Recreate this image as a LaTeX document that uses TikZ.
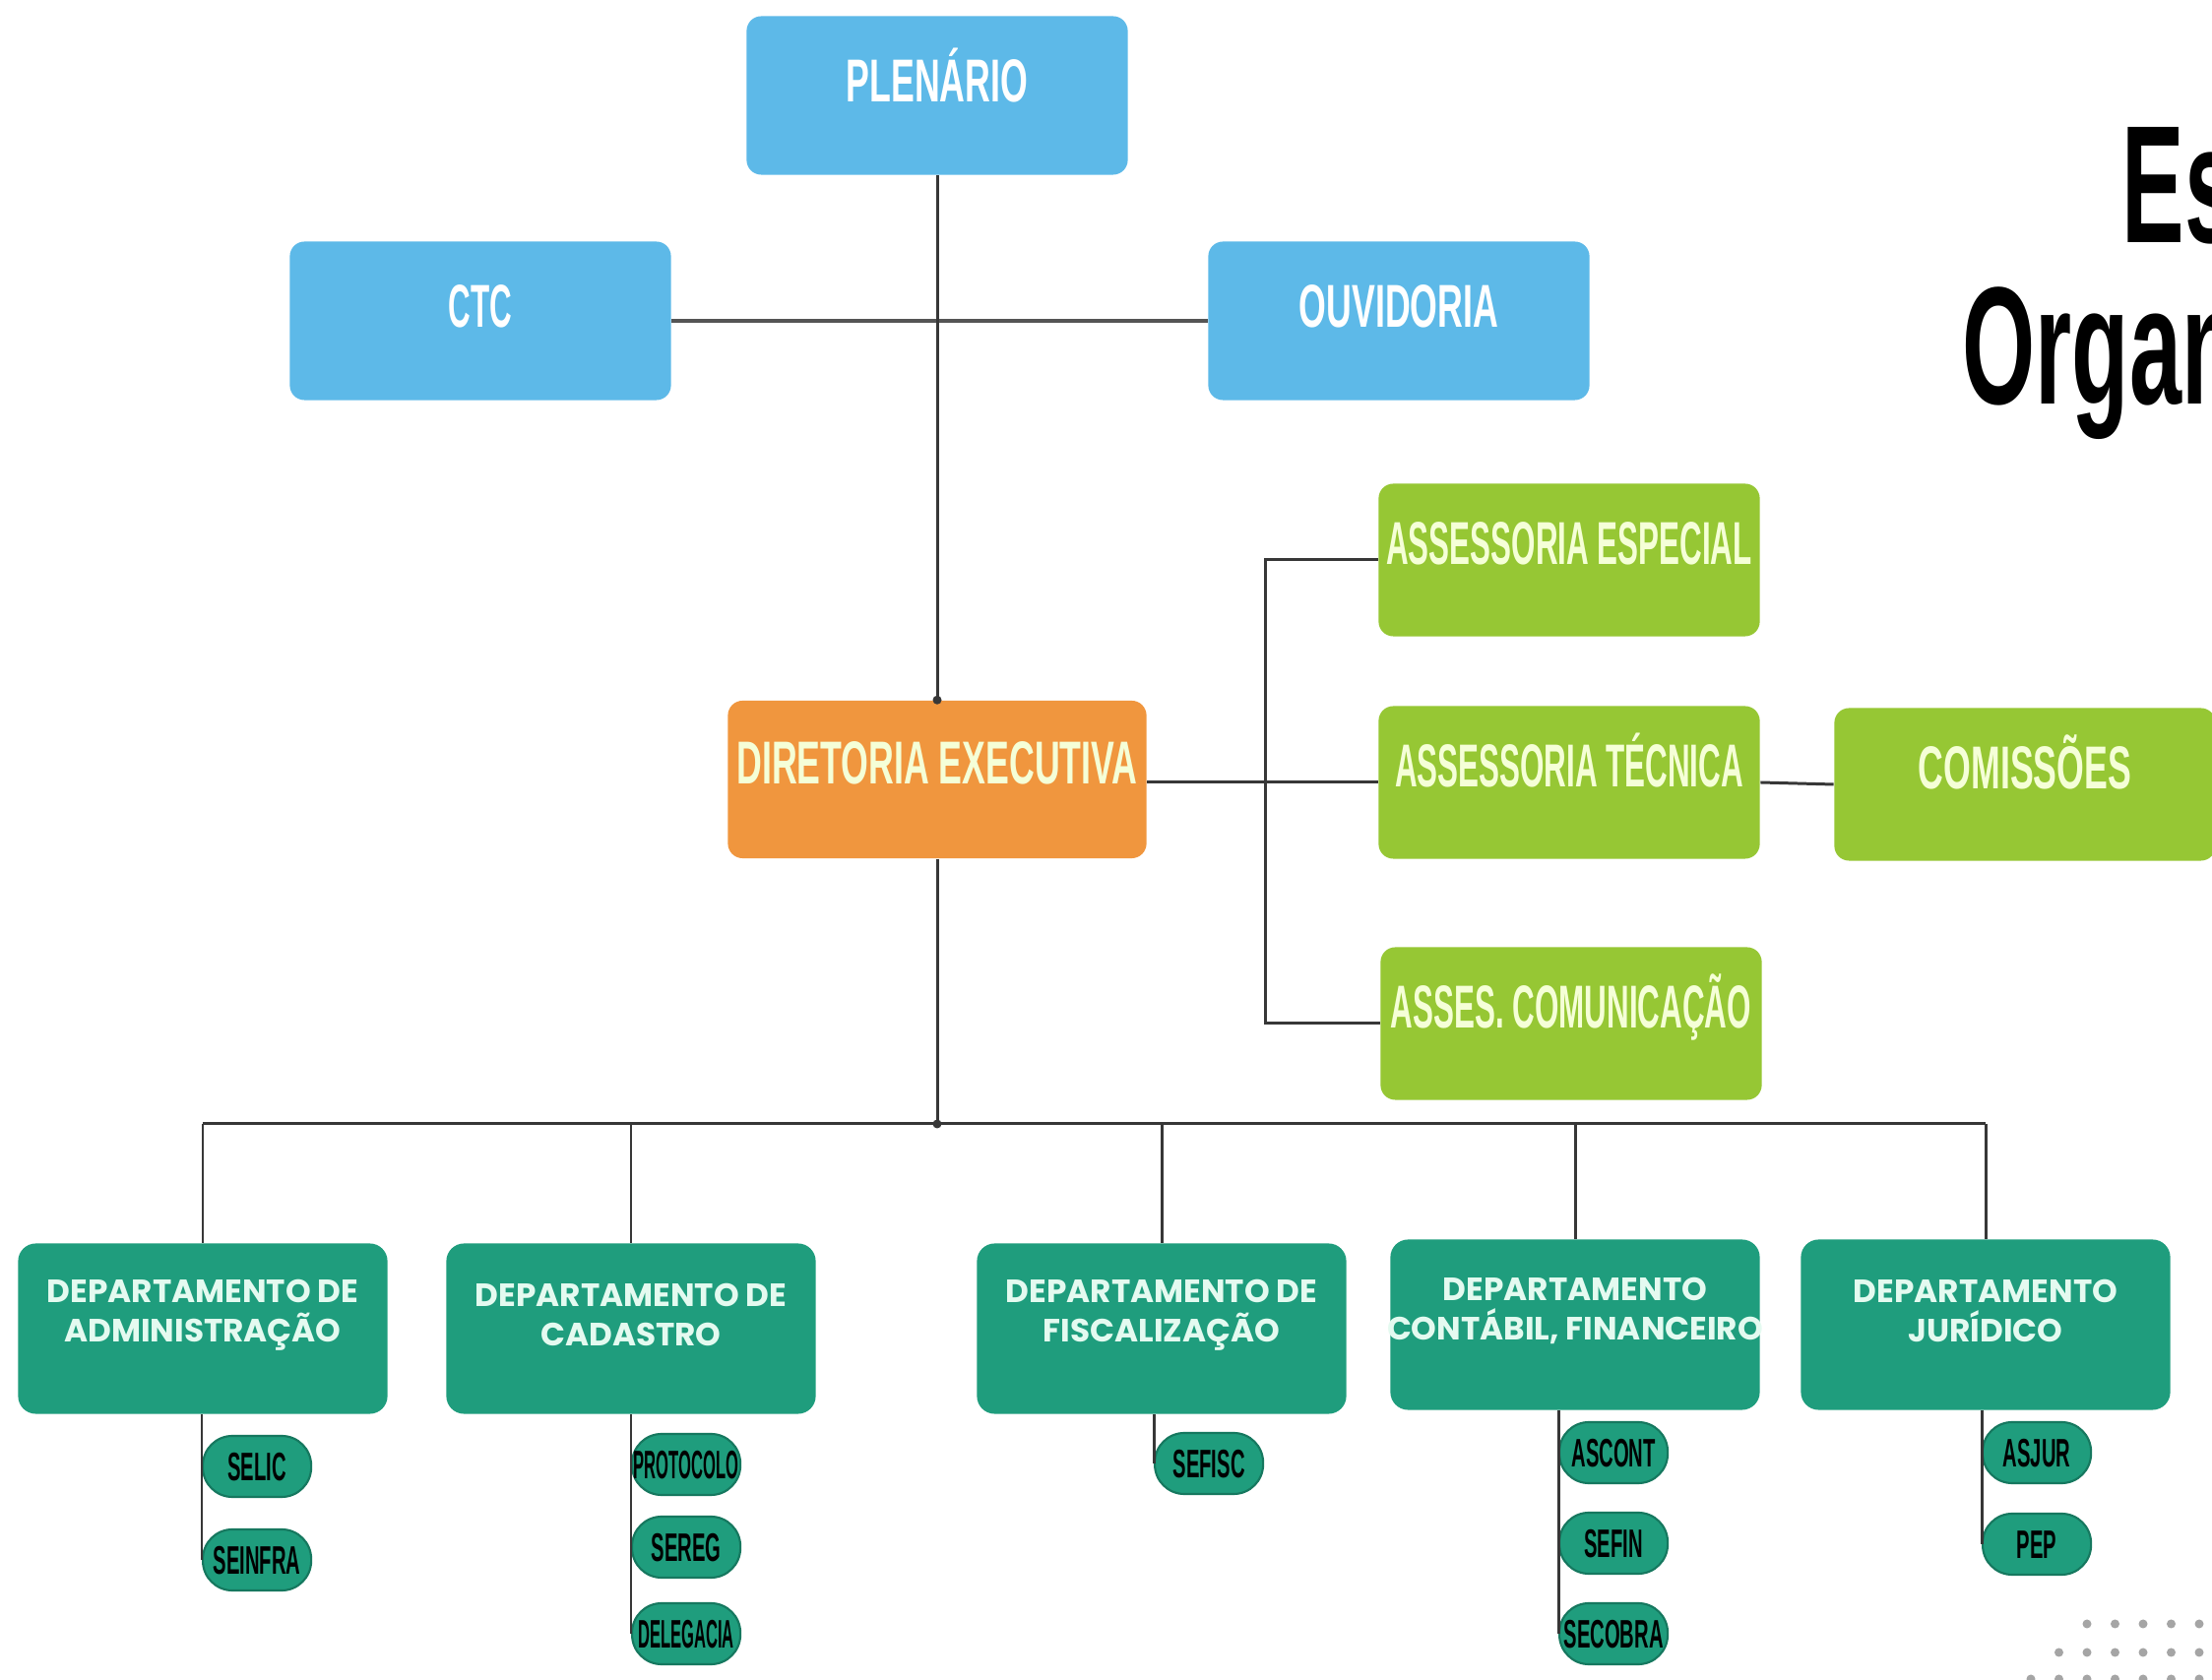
\documentclass[tikz,border=0pt]{standalone}
\usepackage{fontspec}
\setmainfont{Liberation Sans}
\newfontfamily\condfont[FakeStretch=0.51]{Liberation Sans}
\newfontfamily\condwide[FakeStretch=0.58]{Liberation Sans}
\newfontfamily\pillfont[FakeStretch=0.5]{Liberation Sans}
\newfontfamily\pillnarrow[FakeStretch=0.41]{Liberation Sans}
\newfontfamily\titlefont[FakeStretch=0.56]{Liberation Sans}
\newfontfamily\deptfont{Poppins}
\definecolor{cSky}{RGB}{93,185,232}
\definecolor{cOrange}{RGB}{240,150,62}
\definecolor{cLime}{RGB}{150,199,52}
\definecolor{cTeal}{RGB}{31,157,125}
\definecolor{cTealDark}{RGB}{22,120,95}
\definecolor{cLine}{RGB}{55,55,55}
\definecolor{cPale}{RGB}{245,255,215}
\definecolor{cMint}{RGB}{228,250,240}
\definecolor{cDot}{RGB}{165,165,165}
\tikzset{
  box/.style={rectangle, rounded corners=0.15cm, minimum width=3.87cm, minimum height=1.61cm, inner sep=0pt},
  bluebox/.style={box, fill=cSky},
  orangebox/.style={box, fill=cOrange, minimum width=4.25cm, minimum height=1.6cm},
  limebox/.style={box, fill=cLime, minimum height=1.55cm},
  boxtxt/.style={inner sep=0pt, font=\condfont\bfseries\fontsize{17.5}{20}\selectfont, text height=12.5pt, text depth=0pt},
  widetxt/.style={font=\condwide\bfseries\fontsize{17.5}{20}\selectfont},
  whitetxt/.style={boxtxt, text=white},
  paletxt/.style={boxtxt, text=cPale},
  deptbox/.style={rectangle, rounded corners=0.18cm, fill=cTeal, minimum width=3.75cm, minimum height=1.73cm, inner sep=0pt},
  depttxt/.style={inner sep=0pt, align=center, text=cMint, font=\deptfont\bfseries\fontsize{9.3}{11.4}\selectfont},
  pill/.style={rectangle, rounded corners=0.3cm, fill=cTeal, draw=cTealDark, line width=0.6pt, minimum width=1.1cm, minimum height=0.62cm, inner sep=0pt, anchor=west, text=black, font=\pillfont\bfseries\fontsize{11.5}{12}\selectfont, text height=8.2pt, text depth=0pt},
  narrow/.style={font=\pillnarrow\bfseries\fontsize{11.5}{12}\selectfont},
  conn/.style={draw=cLine, line width=0.85pt},
  title/.style={inner sep=0pt, anchor=base west, font=\titlefont\bfseries\fontsize{48.4}{48.4}\selectfont, text=black},
}
\newcommand\mkbox[6]{%
  \node[#2] (#1) at (#3) {};
  \node[#4] (#1-t) at ([yshift=#5]#1.center) {#6};}
\newcommand\mkdept[3]{%
  \node[deptbox] (#1) at (#2) {};
  \node[depttxt] (#1-t) at ([yshift=0.14cm]#1.center) {#3};}
\begin{document}
\begin{tikzpicture}[x=0.01cm,y=-0.01cm]
\useasboundingbox (0,0) rectangle (2247,1707);
\begin{scope}
\clip (0,0) rectangle (2247,1707);
\fill[white] (0,0) rectangle (2247,1707);

% title
\node[title] (title1) at (2155,247) {Estrutura};
\node[title] (title2) at (1993,411) {Organizacional};

% top boxes
\mkbox{plen}{bluebox}{952,97}{whitetxt,widetxt}{0.15cm}{PLENÁRIO}
\mkbox{ctc}{bluebox}{488,326}{whitetxt}{0.15cm}{CTC}
\mkbox{ouv}{bluebox}{1421,326}{whitetxt,widetxt}{0.15cm}{OUVIDORIA}
\mkbox{dir}{orangebox}{952,792}{paletxt,widetxt}{0.17cm}{DIRETORIA EXECUTIVA}
\mkbox{esp}{limebox}{1594,569}{paletxt}{0.17cm}{ASSESSORIA ESPECIAL}
\mkbox{tec}{limebox}{1594,795}{paletxt}{0.17cm}{ASSESSORIA TÉCNICA}
\mkbox{comu}{limebox}{1596,1040}{paletxt}{0.17cm}{ASSES. COMUNICAÇÃO}
\mkbox{comis}{limebox}{2057,797}{paletxt,widetxt}{0.17cm}{COMISSÕES}

% departments
\mkdept{admin}{206,1350}{DEPARTAMENTO DE\\ADMINISTRAÇÃO}
\mkdept{cad}{641,1350}{DEPARTAMENTO DE\\CADASTRO}
\mkdept{fisc}{1180,1350}{DEPARTAMENTO DE\\FISCALIZAÇÃO}
\mkdept{cont}{1600,1346}{DEPARTAMENTO\\CONTÁBIL, FINANCEIRO}
\mkdept{jur}{2017,1346}{DEPARTAMENTO\\JURÍDICO}

% sub units
\node[pill] (selic) at (205,1490) {SELIC};
\node[pill] (seinfra) at (205,1585) {SEINFRA};
\node[pill, narrow] (protocolo) at (641,1488) {PROTOCOLO};
\node[pill] (sereg) at (641,1572) {SEREG};
\node[pill, narrow] (delegacia) at (641,1660) {DELEGACIA};
\node[pill] (sefisc) at (1172,1487) {SEFISC};
\node[pill] (ascont) at (1583,1476) {ASCONT};
\node[pill] (sefin) at (1583,1568) {SEFIN};
\node[pill] (secobra) at (1583,1660) {SECOBRA};
\node[pill] (asjur) at (2013,1476) {ASJUR};
\node[pill] (pep) at (2013,1569) {PEP};

% connectors top
\draw[conn, line width=1.1pt, draw=cLine!85] (ctc.east) -- (ouv.west);
\draw[conn] (plen.south) -- (dir.north);
\fill[cLine] (dir.north) circle[radius=0.045cm];
\coordinate (brx) at (1285,0);
\draw[conn] (esp.west) -- (esp.west -| brx) -- (comu.west -| brx) -- (comu.west);
\draw[conn] (tec.west -| dir.east) -- (tec.west);
\draw[conn] (tec.east) -- (comis.west);

% bus
\coordinate (busc) at (952,1142);
\draw[conn] (dir.south) -- (busc);
\fill[cLine] (busc) circle[radius=0.045cm];
\draw[conn] (busc -| admin.north) -- (busc -| jur.north);
\foreach \d in {admin,cad,fisc,cont,jur}{
  \draw[conn] (busc -| \d.north) -- (\d.north);
}

% sub connectors
\draw[conn] (admin.south -| seinfra.west) -- (seinfra.west);
\draw[conn] (cad.south -| delegacia.west) -- (delegacia.west);
\draw[conn] (fisc.south -| sefisc.west) -- (sefisc.west);
\draw[conn] (cont.south -| secobra.west) -- (secobra.west);
\draw[conn] (jur.south -| pep.west) -- (pep.west);

% decorative dots
\foreach \x in {2120,2148.5,2177,2205.5,2234}{\fill[cDot] (\x,1650) circle[radius=0.045cm];}
\foreach \x in {2091.5,2120,2148.5,2177,2205.5,2234}{\fill[cDot] (\x,1679) circle[radius=0.045cm];}
\foreach \x in {2063,2091.5,2120,2148.5,2177,2205.5,2234}{\fill[cDot] (\x,1706) circle[radius=0.045cm];}
\end{scope}
\end{tikzpicture}
\end{document}
